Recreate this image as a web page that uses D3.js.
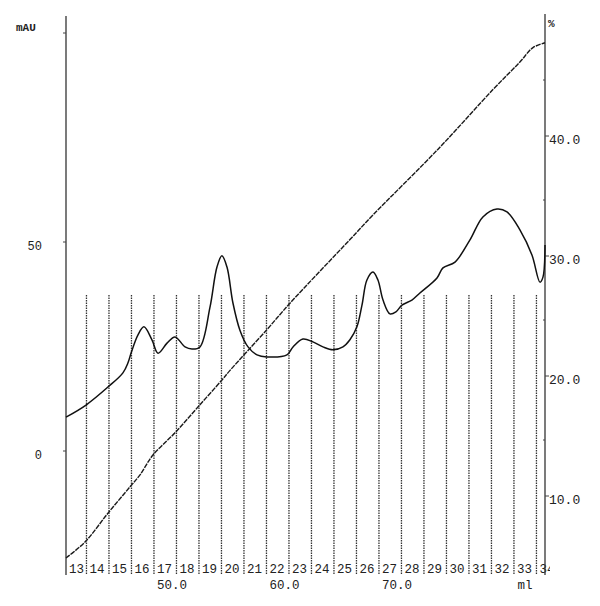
<!DOCTYPE html>
<html>
<head>
<meta charset="utf-8">
<script src="https://cdn.jsdelivr.net/npm/d3@7"></script>
<style>
	body{margin:0;background:#fff}
	text{font-family:"Liberation Mono","DejaVu Sans Mono",monospace;fill:#222}
</style>
</head>
<body>
<div id="chart"></div>
<script>
// UV trace (ml, mAU)
const uvMl = [40.58,42.36,44.31,45.64,46.09,46.36,46.98,47.51,48.22,48.76,49.56,50.27,51.16,51.78,52.49,53.38,54.0,54.44,54.89,55.42,56.04,56.76,57.56,58.44,60.22,60.76,61.64,62.53,63.42,64.31,65.2,65.82,66.44,66.89,67.33,67.87,68.31,68.76,69.38,69.91,70.44,71.33,72.04,73.56,74.09,75.16,76.49,77.64,78.89,79.78,80.93,82.0,82.71,82.98,83.16]
const uvMau = [8.1,11.0,15.3,18.7,21.1,23.4,27.8,29.7,26.6,23.4,25.8,27.3,24.9,24.4,24.9,34.4,44.0,46.7,44.0,35.4,28.9,24.9,23.0,22.5,23.0,24.9,26.8,26.1,24.9,24.2,24.9,26.6,29.7,34.9,40.9,42.8,40.9,36.1,32.8,33.3,34.9,36.1,37.8,41.4,43.8,45.2,50.5,56.0,57.9,57.2,52.9,46.9,40.4,41.6,49.3]

// gradient (ml, %B)
const gradMl = [40.58,42.27,44.31,46.27,47.16,48.31,50.27,52.31,54.44,55.16,58.44,60.49,65.82,67.87,73.82,78.53,80.93,82.09,83.16]
const gradPct = [5.17,6.5,8.9,11.1,12.1,13.75,15.6,17.75,20.0,20.8,24.2,26.4,31.7,33.75,39.4,44.2,46.5,47.7,48.1]

// fractions
const fracNums = [13,14,15,16,17,18,19,20,21,22,23,24,25,26,27,28,29,30,31,32,33,34]
const fracBounds = [42.4,44.4,46.4,48.4,50.4,52.4,54.4,56.4,58.4,60.4,62.4,64.4,66.4,68.4,70.4,72.4,74.4,76.4,78.4,80.4,82.4]

const xTicks = [50,60,70]
const mauTicks = [0,50,100]
const mauLabels = [0,50]
const pctTicks = [10,20,30,40]
const pctMinor = [15,25,35,45]

const W = 600, H = 606
const mLeft = 66, mRight = 545, mTop = 16, mBottom = 575

const svg = d3.select('#chart').append('svg')
	.attr('width', W).attr('height', H)

const x = d3.scaleLinear().domain([40.58, 83.16]).range([mLeft, mRight])
const yL = d3.scaleLinear().domain([0, 50]).range([451, 242])
const yR = d3.scaleLinear().domain([0, 10]).range([620, 500])

svg.append('clipPath').attr('id','clip')
	.append('rect').attr('x', mLeft).attr('y', 0).attr('width', mRight - mLeft + 5).attr('height', H)

// fraction marks
const fr = svg.append('g').attr('clip-path','url(#clip)')
fr.selectAll('line').data(fracBounds).enter().append('line')
	.attr('x1', d => x(d)).attr('x2', d => x(d))
	.attr('y1', 295).attr('y2', mBottom)
	.attr('stroke', '#333').attr('stroke-width', 1.3)
	.attr('stroke-dasharray', '1.5,1')

fr.selectAll('text').data(fracNums).enter().append('text')
	.attr('x', (d, i) => (i == 0 ? mLeft : x(fracBounds[i - 1])) + 3)
	.attr('y', 573)
	.attr('font-size', 12.5)
	.text(d => d)

// axes lines
svg.append('line').attr('x1', mLeft).attr('x2', mLeft).attr('y1', mTop).attr('y2', mBottom)
	.attr('stroke', '#333').attr('stroke-width', 1.3)
svg.append('line').attr('x1', mRight).attr('x2', mRight).attr('y1', 14).attr('y2', mBottom)
	.attr('stroke', '#333').attr('stroke-width', 1.3)

// left ticks
svg.selectAll('.lt').data(mauTicks).enter().append('line')
	.attr('x1', mLeft - 3).attr('x2', mLeft)
	.attr('y1', d => yL(d)).attr('y2', d => yL(d))
	.attr('stroke', '#444')
svg.selectAll('.ll').data(mauLabels).enter().append('text')
	.attr('x', 42).attr('y', d => yL(d) + 8)
	.attr('text-anchor', 'end').attr('font-size', 12)
	.text(d => d)
svg.append('text').attr('x', 16).attr('y', 31).attr('font-size', 11).attr('font-weight','bold').text('mAU')

// right ticks
svg.selectAll('.rt').data(pctTicks).enter().append('line')
	.attr('x1', mRight).attr('x2', mRight + 4)
	.attr('y1', d => yR(d) - 4).attr('y2', d => yR(d) - 4)
	.attr('stroke', '#444')
svg.selectAll('.rm').data(pctMinor).enter().append('line')
	.attr('x1', mRight - 2).attr('x2', mRight)
	.attr('y1', d => yR(d)).attr('y2', d => yR(d))
	.attr('stroke', '#444')
svg.selectAll('.rl').data(pctTicks).enter().append('text')
	.attr('x', 549).attr('y', d => yR(d) + 4)
	.attr('font-size', 13)
	.text(d => d.toFixed(1))
svg.append('text').attr('x', 548).attr('y', 27).attr('font-size', 11).attr('font-weight','bold').text('%')

// x labels
svg.selectAll('.xl').data(xTicks).enter().append('text')
	.attr('x', d => x(d)).attr('y', 589)
	.attr('text-anchor', 'middle').attr('font-size', 12.5)
	.text(d => d.toFixed(1))
svg.append('text').attr('x', 525).attr('y', 589).attr('text-anchor','middle').attr('font-size', 12.5).text('ml')

// gradient line
const gLine = d3.line()
	.x((d, i) => x(gradMl[i]))
	.y(d => yR(d))
	.curve(d3.curveCatmullRom.alpha(0.5))
svg.append('path').datum(gradPct)
	.attr('d', gLine)
	.attr('fill', 'none').attr('stroke', '#1a1a1a').attr('stroke-width', 1.4)
	.attr('stroke-dasharray', '5,1')

// UV line
const uvLine = d3.line()
	.x((d, i) => x(uvMl[i]))
	.y(d => yL(d))
	.curve(d3.curveCatmullRom.alpha(0.5))
svg.append('path').datum(uvMau)
	.attr('d', uvLine)
	.attr('fill', 'none').attr('stroke', '#111').attr('stroke-width', 1.5)
</script>
</body>
</html>
